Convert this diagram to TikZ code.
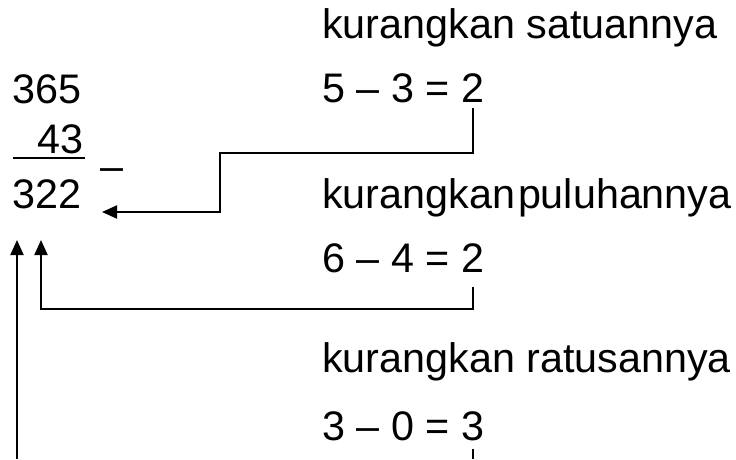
\documentclass[tikz,border=0pt]{standalone}
\usepackage{fontspec}
\setmainfont{Liberation Sans}
\usetikzlibrary{arrows.meta,positioning}

\begin{document}
\begin{tikzpicture}[
  x=1pt, y=-1pt,
  txt/.style={anchor=base west, inner sep=0pt, font=\fontsize{41.3}{48}\selectfont},
  num/.style={txt},
  link/.style={line width=2pt, black},
  arr/.style={link, -{Triangle[length=15pt, width=13pt]}}
]
\useasboundingbox (0,0) rectangle (736,459);
% --- the subtraction ---
\node[num] (top) at (12,103) {365};
\node[num, anchor=base east] (sub) at (84,153) {43};
\node[num] (res) at (12,208) {322};
\node[txt] (minus) at (100,180) {–};
\draw[link] (13,158) -- (85,158);
% --- steps ---
\node[txt] (s1) at (322,38) {kurangkan satuannya};
\node[txt] (e1) at (322,102) {5 – 3 =};
\node[txt] (d1) at ([xshift=11.5pt]e1.base east) {2};
\node[txt] (s2) at (322,208) {kurangkan\hspace{3pt}puluhannya};
\node[txt] (e2) at (322,272) {6 – 4 =};
\node[txt] (d2) at ([xshift=11.5pt]e2.base east) {2};
\node[txt] (s3) at (322,372) {kurangkan ratusannya};
\node[txt] (e3) at (322,440) {3 – 0 =};
\node[txt] (d3) at ([xshift=11.5pt]e3.base east) {3};
% --- turn points ---
\coordinate (r1) at (102,212);
\coordinate (r2) at (41,240);
\coordinate (r3) at (17,240);
\coordinate (b3) at (17,459);
% --- connectors ---
\draw[arr] ([yshift=-6pt]d1.south) |- (220,153) |- (r1);
\draw[arr] ([yshift=-15pt]d2.south) |- (r2 |- 0,309) -- (r2);
\draw[link] ([yshift=-8pt]d3.south) -- (d3.south |- b3);
\draw[arr] (b3) -- (r3);
\end{tikzpicture}
\end{document}
